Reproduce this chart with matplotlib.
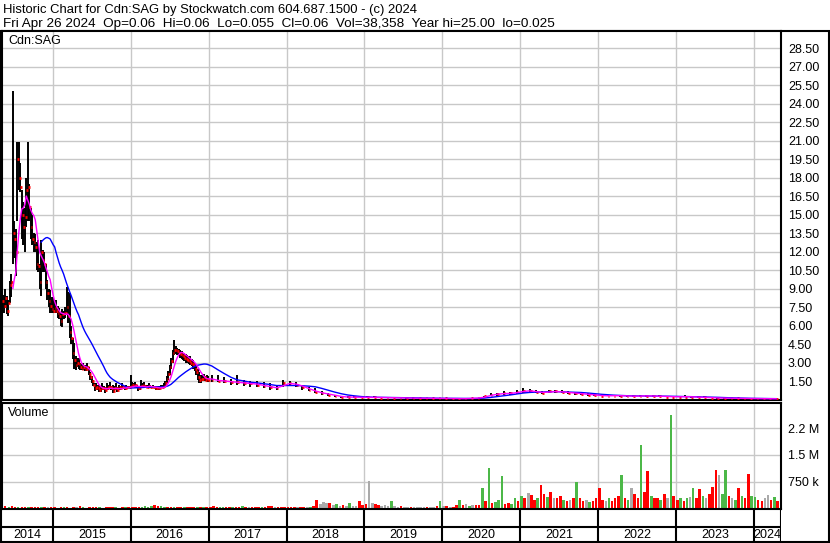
import numpy as np
import pandas as pd
import matplotlib
matplotlib.use('Agg')
import matplotlib.pyplot as plt

plt.rcParams['font.family'] = ['Liberation Sans', 'DejaVu Sans']

# weekly bars May 2014 - Dec 2016 (hi / lo / close)
wk_hi = [10.5, 8.5, 9.0, 8.4, 8.1, 9.6, 10.2, 25.0, 14.5, 13.8,
         20.9, 20.9, 19.2, 17.0, 16.0, 15.5, 18.0, 20.9, 17.5, 15.5,
         15.0, 13.5, 13.4, 12.8, 12.9, 11.0, 12.9, 12.1, 12.0, 11.0,
         9.7, 9.0, 8.9, 8.3, 8.3, 8.1, 8.1, 7.6, 7.4, 7.0,
         7.3, 7.2, 7.5, 9.1, 8.7, 8.6, 6.0, 5.0, 4.6, 3.5,
         3.4, 3.4, 3.0, 2.9, 3.0, 2.8, 2.7, 3.0, 2.6, 2.2,
         1.9, 1.6, 1.3, 1.3, 1.2, 1.1, 1.0, 1.3, 1.1, 1.0,
         1.3, 1.2, 1.4, 1.1, 1.2, 1.1, 1.3, 1.0, 1.2, 1.1,
         1.3, 1.2, 1.1, 1.2, 1.1, 1.1, 2.0, 1.4, 1.3, 1.4,
         1.2, 1.1, 1.1, 1.6, 1.3, 1.4, 1.2, 1.2, 1.3, 1.2,
         1.1, 1.2, 1.1, 1.1, 1.1, 1.1, 1.2, 1.2, 1.3, 1.5,
         1.9, 2.3, 2.8, 3.4, 4.0, 4.8, 4.3, 4.2, 4.1, 4.0,
         3.9, 3.8, 3.8, 3.7, 3.6, 3.5, 3.5, 3.3, 3.2, 3.0,
         2.8, 2.5, 2.2, 2.0, 2.0, 2.1, 1.9, 2.0, 1.9]
wk_lo = [7.3, 7.0, 7.4, 6.9, 6.8, 7.8, 8.3, 11.0, 11.5, 10.0,
         14.5, 17.0, 16.8, 13.0, 12.5, 12.0, 14.0, 14.5, 14.5, 13.0,
         12.5, 12.0, 12.0, 10.5, 10.3, 9.0, 8.4, 10.3, 10.3, 9.0,
         8.1, 7.5, 7.0, 7.0, 7.0, 7.0, 7.0, 6.6, 6.5, 6.0,
         5.9, 6.5, 6.6, 6.9, 6.2, 5.0, 4.5, 3.3, 2.5, 2.4,
         2.6, 2.5, 2.4, 2.4, 2.4, 2.3, 2.3, 2.4, 2.0, 1.6,
         1.3, 1.1, 0.7, 0.8, 0.8, 0.6, 0.6, 0.8, 0.8, 0.5,
         0.8, 0.8, 0.9, 0.8, 0.5, 0.7, 0.8, 0.6, 0.8, 0.8,
         0.9, 0.9, 0.8, 0.9, 0.9, 0.9, 0.9, 1.0, 1.0, 1.0,
         0.9, 0.7, 0.8, 0.9, 1.0, 1.0, 0.9, 0.9, 1.0, 0.9,
         0.9, 0.9, 0.9, 0.8, 0.8, 0.8, 0.9, 0.9, 0.9, 1.0,
         1.3, 1.6, 2.0, 2.5, 3.0, 3.6, 3.7, 3.6, 3.5, 3.4,
         3.3, 3.2, 3.1, 3.0, 3.0, 2.9, 2.8, 2.7, 2.5, 2.3,
         2.0, 1.6, 1.3, 1.3, 1.5, 1.5, 1.5, 1.5, 1.4]
wk_cl = [8.0, 7.6, 8.2, 7.2, 7.8, 9.3, 9.5, 13.5, 13.0, 12.0,
         19.5, 18.0, 17.2, 15.0, 14.0, 14.8, 17.0, 17.2, 15.6, 14.0,
         13.0, 12.8, 12.4, 11.0, 10.8, 9.5, 12.0, 11.3, 11.0, 9.5,
         8.6, 8.0, 7.6, 7.3, 7.2, 7.4, 7.2, 7.0, 6.8, 6.4,
         6.9, 7.0, 7.0, 7.5, 6.8, 5.5, 5.0, 3.8, 3.2, 2.8,
         3.0, 2.9, 2.6, 2.5, 2.6, 2.5, 2.5, 2.6, 2.1, 1.8,
         1.5, 1.2, 0.9, 1.0, 0.9, 0.8, 0.9, 0.9, 0.9, 0.8,
         0.9, 1.0, 1.0, 0.9, 0.7, 0.9, 0.9, 0.8, 1.0, 0.9,
         1.0, 1.0, 0.9, 1.0, 1.0, 1.0, 1.1, 1.2, 1.1, 1.2,
         1.0, 0.9, 0.9, 1.1, 1.2, 1.1, 1.0, 1.0, 1.1, 1.0,
         1.0, 1.0, 0.95, 0.9, 0.9, 0.9, 1.0, 1.0, 1.1, 1.3,
         1.7, 2.1, 2.6, 3.1, 3.8, 4.0, 4.0, 3.9, 3.8, 3.7,
         3.6, 3.5, 3.4, 3.3, 3.2, 3.1, 3.0, 2.9, 2.8, 2.5,
         2.2, 1.8, 1.6, 1.7, 1.7, 1.8, 1.6, 1.7, 1.6]

# monthly bars Jan 2017 - Apr 2024
mo_hi = [2.0, 2.0, 1.8, 1.7, 2.0, 1.6, 1.5, 1.5, 1.4, 1.3, 1.2, 1.6,
         1.5, 1.4, 1.2, 1.0, 0.9, 0.7, 0.5, 0.4, 0.3, 0.3, 0.25, 0.25,
         0.25, 0.3, 0.22, 0.2, 0.2, 0.18, 0.2, 0.17, 0.15, 0.15, 0.14, 0.13,
         0.13, 0.12, 0.1, 0.12, 0.14, 0.15, 0.3, 0.5, 0.55, 0.7, 0.6, 0.75,
         0.9, 0.85, 0.75, 0.7, 0.75, 0.8, 0.75, 0.7, 0.6, 0.55, 0.5, 0.45,
         0.4, 0.38, 0.4, 0.38, 0.35, 0.33, 0.35, 0.38, 0.35, 0.33, 0.32, 0.3,
         0.3, 0.35, 0.28, 0.26, 0.25, 0.22, 0.2, 0.18, 0.16, 0.15, 0.14, 0.13,
         0.12, 0.1, 0.1, 0.09]
mo_lo = [1.4, 1.4, 1.3, 1.2, 1.2, 1.1, 1.0, 1.0, 0.9, 0.8, 0.8, 1.0,
         1.1, 1.0, 0.8, 0.7, 0.5, 0.4, 0.3, 0.2, 0.15, 0.15, 0.12, 0.12,
         0.12, 0.12, 0.1, 0.1, 0.1, 0.09, 0.08, 0.08, 0.07, 0.07, 0.06, 0.06,
         0.06, 0.05, 0.04, 0.05, 0.07, 0.08, 0.12, 0.25, 0.3, 0.4, 0.4, 0.45,
         0.55, 0.55, 0.5, 0.45, 0.5, 0.55, 0.5, 0.45, 0.4, 0.35, 0.3, 0.3,
         0.25, 0.25, 0.25, 0.22, 0.22, 0.2, 0.2, 0.22, 0.2, 0.2, 0.18, 0.18,
         0.17, 0.17, 0.15, 0.14, 0.12, 0.1, 0.08, 0.08, 0.07, 0.06, 0.06, 0.05,
         0.05, 0.04, 0.04, 0.03]
mo_cl = [1.6, 1.5, 1.5, 1.4, 1.4, 1.3, 1.3, 1.2, 1.1, 1.0, 0.9, 1.3,
         1.3, 1.2, 1.0, 0.8, 0.6, 0.5, 0.4, 0.3, 0.2, 0.2, 0.18, 0.18,
         0.17, 0.18, 0.15, 0.14, 0.13, 0.12, 0.12, 0.11, 0.1, 0.1, 0.09, 0.09,
         0.09, 0.08, 0.06, 0.08, 0.1, 0.12, 0.25, 0.4, 0.45, 0.5, 0.5, 0.6,
         0.7, 0.7, 0.6, 0.55, 0.65, 0.65, 0.6, 0.55, 0.5, 0.45, 0.4, 0.35,
         0.3, 0.3, 0.32, 0.3, 0.28, 0.27, 0.28, 0.3, 0.27, 0.26, 0.24, 0.22,
         0.22, 0.24, 0.2, 0.19, 0.17, 0.14, 0.12, 0.11, 0.1, 0.09, 0.08, 0.08,
         0.07, 0.06, 0.06, 0.06]

# volume, semi-monthly, thousands of shares
vol_2014 = [40, 55, 35, 60, 45, 50, 30, 40, 35, 45, 30, 40, 35, 30, 40, 35]
vol_2015 = [30, 25, 35, 40, 30, 25, 30, 35, 60, 30, 25, 30, 40, 35, 30, 25, 35, 30, 40, 30, 25, 30, 35, 30]
vol_2016 = [40, 35, 30, 45, 60, 50, 80, 95, 70, 60, 45, 50, 40, 35, 30, 40, 35, 30, 45, 40, 35, 40, 30, 35]
vol_2017 = [45, 60, 40, 35, 50, 40, 30, 45, 35, 40, 60, 45, 40, 35, 30, 50, 40, 45, 55, 70, 50, 40, 35, 45]
vol_2018 = [40, 35, 30, 45, 50, 40, 35, 45, 60, 250, 120, 170, 160, 140, 90, 120, 60, 90, 70, 140, 80, 60, 200, 90]
vol_2019 = [120, 760, 150, 120, 100, 80, 90, 70, 200, 60, 50, 60, 50, 40, 45, 40, 35, 30, 40, 35, 40, 35, 60, 220]
vol_2020 = [60, 80, 50, 40, 105, 240, 90, 120, 80, 100, 90, 110, 580, 200, 1120, 150, 180, 225, 900, 130, 160, 120, 280, 200]
vol_2021 = [350, 300, 420, 380, 250, 300, 670, 400, 320, 450, 300, 280, 350, 250, 200, 230, 280, 750, 300, 200, 250, 180, 220, 300]
vol_2022 = [570, 250, 200, 300, 220, 280, 350, 950, 300, 250, 570, 400, 300, 1770, 450, 1040, 350, 300, 280, 250, 400, 300, 2610, 350]
vol_2023 = [250, 300, 200, 280, 330, 570, 300, 550, 350, 300, 400, 600, 1070, 950, 400, 1070, 350, 300, 250, 570, 350, 300, 960, 350]
vol_2024 = [330, 250, 200, 300, 390, 250, 330, 200]

# u = up, d = down, n = unchanged
dir_2014 = "ddudduddudddudnd"
dir_2015 = "dddudd" "dndudd" "dduddd" "duddud"
dir_2016 = "ddduuu" "udduud" "duddud" "ddudud"
dir_2017 = "ddduud" "duddud" "ndddud" "ddnddd"
dir_2018 = "dddndd" "nuddnn" "ndnund" "nunndd"
dir_2019 = "dnnddn" "nnunnd" "nndnnn" "ndnndu"
dir_2020 = "ndnddu" "dnundd" "ududuu" "udduud"
dir_2021 = "udnddu" "ddudnd" "dudndu" "ddnudd"
dir_2022 = "ddnudd" "dudund" "duddud" "dudnud"
dir_2023 = "dudunu" "ddundd" "dnuudn" "ududdu"
dir_2024 = "uddnndud"

vol_k = (vol_2014 + vol_2015 + vol_2016 + vol_2017 + vol_2018 + vol_2019
         + vol_2020 + vol_2021 + vol_2022 + vol_2023 + vol_2024)
vol_dir = (dir_2014 + dir_2015 + dir_2016 + dir_2017 + dir_2018 + dir_2019
           + dir_2020 + dir_2021 + dir_2022 + dir_2023 + dir_2024)

years = list(range(2014, 2025))
price_ticks = np.arange(1.5, 29.0, 1.5)
vol_ticks = [750000, 1500000, 2250000]
vol_labels = ['750 k', '1.5 M', '2.2 M']

# dates
wk_dates = pd.date_range('2014-05-09', periods=len(wk_hi), freq='7D')
mo_dates = pd.date_range('2017-01-01', periods=len(mo_hi), freq='MS') + pd.Timedelta(days=14)
dates = wk_dates.append(mo_dates)
hi = np.array(wk_hi + mo_hi)
lo = np.array(wk_lo + mo_lo)
cl = pd.Series(wk_cl + mo_cl, index=dates)

# moving averages (shown once the window is full)
ma_fast = cl.rolling('45D').mean()
ma_slow = cl.rolling('180D').mean()
ma_fast[ma_fast.index < dates[0] + pd.Timedelta(days=45)] = np.nan
ma_slow[ma_slow.index < dates[0] + pd.Timedelta(days=180)] = np.nan

vdates = pd.date_range('2014-05-01', periods=len(vol_k), freq='SMS') + pd.Timedelta(days=7)
vol = np.array(vol_k) * 1000
dir_col = {'u': '#4cb848', 'd': '#ff0000', 'n': '#aaaaaa'}
vcols = [dir_col[c] for c in vol_dir]

x0 = pd.Timestamp('2014-05-07')
x1 = pd.Timestamp('2024-05-08')
year_starts = [pd.Timestamp(f'{y}-01-01') for y in years[1:]]

W, H = 830, 543
fig = plt.figure(figsize=(W / 100, H / 100), dpi=100)
fig.patch.set_facecolor('white')

# background / frame in pixel coords
bg = fig.add_axes([0, 0, 1, 1])
bg.set_xlim(0, W)
bg.set_ylim(H, 0)
bg.axis('off')
fs = 9
bg.text(3, 13, 'Historic Chart for Cdn:SAG by Stockwatch.com 604.687.1500 - (c) 2024',
        fontsize=9.35, va='baseline')
bg.text(3, 27, 'Fri Apr 26 2024  Op=0.06  Hi=0.06  Lo=0.055  Cl=0.06  Vol=38,358  Year hi=25.00  lo=0.025',
        fontsize=9.7, va='baseline')
for seg in [((0, W), (30.5, 30.5)), ((0.8, 0.8), (30, 542)), ((828.5, 828.5), (30, 542)),
            ((0, W), (541.5, 541.5))]:
    bg.plot(seg[0], seg[1], color='black', lw=1.5, solid_capstyle='butt')

grid_kw = dict(color='#c8c8c8', lw=1.0)


def style_axes(a):
    a.set_xlim(x0, x1)
    a.set_xticks(year_starts)
    a.tick_params(axis='x', length=0, labelbottom=False)
    a.yaxis.tick_right()
    a.tick_params(axis='y', length=0, pad=5, labelsize=fs)
    a.grid(True, **grid_kw)
    a.set_axisbelow(True)
    for s in a.spines.values():
        s.set_color('black')
        s.set_linewidth(1.5)


# price panel
ax = fig.add_axes([2 / W, 1 - 400 / H, 779 / W, 369 / H])
style_axes(ax)
ax.set_ylim(-0.04, 29.88)
ax.set_yticks(price_ticks)
ax.set_yticklabels([f'{v:.2f}' for v in price_ticks])
ax.vlines(dates, lo, hi, color='black', lw=1.4, zorder=2)
ax.hlines(cl.values, dates, dates + pd.Timedelta(days=8), color='red', lw=2, zorder=3)
ax.plot(ma_slow.index, ma_slow.values, color='#0000ff', lw=1.0, zorder=4)
ax.plot(ma_fast.index, ma_fast.values, color='#ff00ff', lw=1.0, zorder=5)
ax.annotate('Cdn:SAG', xy=(0, 1), xycoords='axes fraction', xytext=(6, -10.5),
            textcoords='offset pixels', va='center', fontsize=fs)

# volume panel
av = fig.add_axes([2 / W, 1 - 509 / H, 779 / W, 106 / H])
style_axes(av)
av.set_ylim(-15000, 2950000)
av.set_yticks(vol_ticks)
av.set_yticklabels(vol_labels)
av.bar(vdates, vol, width=12, color=vcols, linewidth=0, zorder=2)
av.annotate('Volume', xy=(0, 1), xycoords='axes fraction', xytext=(6, -10),
            textcoords='offset pixels', va='center', fontsize=fs)

# year band
ab = fig.add_axes([2 / W, 1 - 541 / H, 779 / W, 32 / H])
ab.set_xlim(x0, x1)
ab.set_ylim(0, 32)
ab.axis('off')
ab.vlines(year_starts, 0, 32, color='black', lw=1.5)
ab.axhline(14, color='black', lw=1.5)
ab.axvline(x1, color='black', lw=1.5)
for y in years:
    a = max(pd.Timestamp(f'{y}-01-01'), x0)
    b = min(pd.Timestamp(f'{y + 1}-01-01'), x1)
    ab.text(a + (b - a) / 2, 6.5, str(y), ha='center', va='center', fontsize=fs)

fig.savefig('out.png', dpi=100)
